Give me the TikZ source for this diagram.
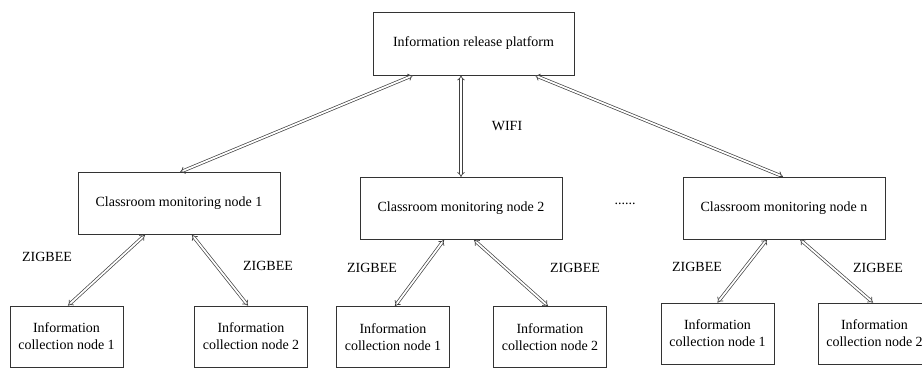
\documentclass[tikz,border=0pt]{standalone}
\usepackage{fontspec}
\setmainfont{Liberation Serif}
\usepackage{tikz}
\usetikzlibrary{arrows.meta,positioning}

\begin{document}
\begin{tikzpicture}[
    x=1pt, y=-1pt,
    font=\fontsize{14}{17}\selectfont,
    box/.style={rectangle, draw=black!80, line width=0.8pt, align=center, inner sep=2pt},
    topbox/.style={box, minimum width=201pt, minimum height=63pt},
    monbox/.style={box, minimum width=202pt, minimum height=62pt},
    leafbox/.style={box, minimum width=113pt, minimum height=61pt},
    link/.style={double, double distance=1.8pt, line width=0.7pt, draw=black!75, {Implies[scale=1.3]}-{Implies[scale=1.3]}},
    lbl/.style={inner sep=0pt}
]
    \useasboundingbox (0,0) rectangle (922,369);
    \clip (0,0) rectangle (922,369);

    \node[topbox] (release) at (473.5,43.5) {Information release platform};

    \node[monbox] (mon1) at (179,203.5) {Classroom monitoring node 1};
    \node[monbox] (mon2) at (461,208.5) {Classroom monitoring node 2};
    \node[monbox] (monn) at (784,208) {Classroom monitoring node n};

    \node[leafbox] (c1a) at (66.5,336.5) {Information\\collection node 1};
    \node[leafbox] (c1b) at (251,336.5) {Information\\collection node 2};
    \node[leafbox] (c2a) at (393,337) {Information\\collection node 1};
    \node[leafbox] (c2b) at (550,337) {Information\\collection node 2};
    \node[leafbox] (cna) at (717.5,333.5) {Information\\collection node 1};
    \node[leafbox] (cnb) at (874.5,333.5) {Information\\collection node 2};

    % labels
    \node[lbl] (wifi) at (507,126) {WIFI};
    \node[lbl] (dots) at (625,204) {......};
    \node[lbl] (zb1a) at (47,257) {ZIGBEE};
    \node[lbl] (zb1b) at (268,266) {ZIGBEE};
    \node[lbl] (zb2a) at (372,268) {ZIGBEE};
    \node[lbl] (zb2b) at (575,268) {ZIGBEE};
    \node[lbl] (zbna) at (697,267) {ZIGBEE};
    \node[lbl] (zbnb) at (878,268) {ZIGBEE};

    % wifi links
    \draw[link] ([xshift=-60.5pt]release.south) -- ([xshift=1pt]mon1.north);
    \draw[link] ([xshift=-12.5pt]release.south) -- (mon2.north);
    \draw[link] ([xshift=61.5pt]release.south) -- ([xshift=-1pt]monn.north);

    % zigbee links
    \draw[link] ([xshift=-34pt]mon1.south) -- ([xshift=1.5pt]c1a.north);
    \draw[link] ([xshift=13pt]mon1.south) -- ([xshift=-3pt]c1b.north);
    \draw[link] ([xshift=-17pt]mon2.south) -- ([xshift=2pt]c2a.north);
    \draw[link] ([xshift=13pt]mon2.south) -- ([xshift=-2pt]c2b.north);
    \draw[link] ([xshift=-17pt]monn.south) -- (cna.north);
    \draw[link] ([xshift=16pt]monn.south) -- ([xshift=-1.5pt]cnb.north);
\end{tikzpicture}
\end{document}
